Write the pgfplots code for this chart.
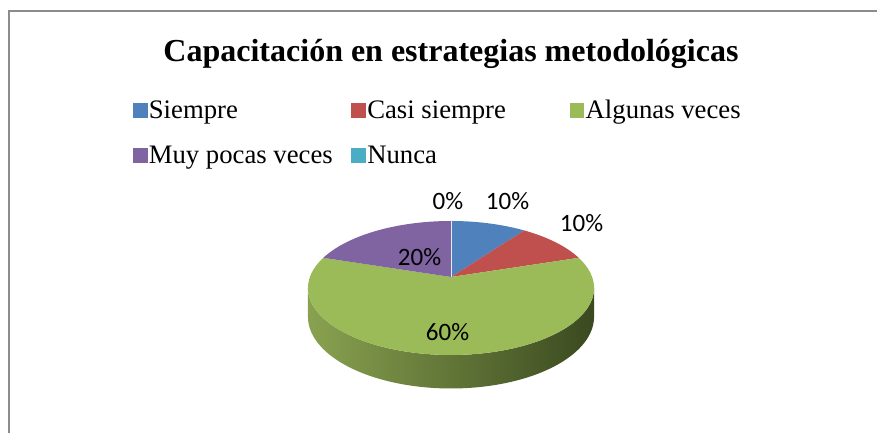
\documentclass[border=0pt]{standalone}
\usepackage{pgfplots}
\pgfplotsset{compat=1.18}
\usepackage{pgfplotstable}
\usepackage{fontspec}
\setmainfont{Liberation Serif}
\newfontfamily\calibri{Carlito}
\definecolor{cSiempre}{HTML}{4F81BD}
\definecolor{cCasi}{HTML}{C0504D}
\definecolor{cAlg}{HTML}{9BBB59}
\definecolor{cMuy}{HTML}{8064A2}
\definecolor{cNunca}{HTML}{4BACC6}
\definecolor{frameg}{HTML}{8C8C8C}
\definecolor{sideL}{RGB}{137,162,80}
\definecolor{sideM}{RGB}{98,124,52}
\definecolor{sideR}{RGB}{58,73,31}

% percentages, in drawing order (clockwise from 12 o'clock)
\pgfplotstableread{
idx value
0 10
1 10
2 60
3 20
4 0
}\piedata

\begin{document}
\begin{tikzpicture}[declare function={
  pw(\q,\p)=1+0.164*\q*sin(\p);
  px(\q,\p)=451+141.1*\q*cos(\p)/pw(\q,\p);
  py(\q,\p)=277-65.2*\q*sin(\p)/pw(\q,\p);
  tt(\q)=(\q<=1)*(-170.56+161.12*\q)+(\q>1)*(-9.44-161.12*(\q-1));
  dd(\q)=(\q>1)*28;
}]
\xdef\pieCum{0}
\foreach \i/\n in {0/a,1/b,2/c,3/d,4/e}{%
  \pgfplotstablegetelem{\i}{value}\of\piedata
  \pgfmathsetmacro\pieAs{90-3.6*\pieCum}%
  \pgfmathsetmacro\pieNc{\pieCum+\pgfplotsretval}%
  \pgfmathsetmacro\pieAe{90-3.6*\pieNc}%
  \expandafter\xdef\csname pieS\n\endcsname{\pieAs}%
  \expandafter\xdef\csname pieE\n\endcsname{\pieAe}%
  \xdef\pieCum{\pieNc}%
}
\useasboundingbox (0,0) rectangle (877pt,432pt);
\begin{axis}[
  scale only axis, width=877pt, height=432pt,
  xmin=0, xmax=877, ymin=0, ymax=432, y dir=reverse,
  hide axis, clip=false,
  legend columns=3,
  legend style={draw=none, fill=none, inner sep=0pt, outer sep=0pt,
    at={(axis cs:133,100)}, anchor=north west,
    font=\fontsize{26.7}{31}\selectfont,
    row sep=21pt,
    cells={anchor=base west},
    nodes={inner xsep=2pt, inner ysep=0pt, text height=18pt, text depth=6pt},
    /tikz/every even column/.append style={column sep=0pt}},
]
\addlegendimage{legend image code/.code={\fill[cSiempre] (0pt,1pt) rectangle (13.5pt,15pt);}}
\addlegendentry{\makebox[200.5pt][l]{Siempre}}
\addlegendimage{legend image code/.code={\fill[cCasi] (0pt,1pt) rectangle (13.5pt,15pt);}}
\addlegendentry{\makebox[200.5pt][l]{Casi siempre}}
\addlegendimage{legend image code/.code={\fill[cAlg] (0pt,1pt) rectangle (13.5pt,15pt);}}
\addlegendentry{Algunas veces}
\addlegendimage{legend image code/.code={\fill[cMuy] (0pt,1pt) rectangle (13.5pt,15pt);}}
\addlegendentry{\makebox[200.5pt][l]{Muy pocas veces}}
\addlegendimage{legend image code/.code={\fill[cNunca] (0pt,1pt) rectangle (13.5pt,15pt);}}
\addlegendentry{Nunca}

% side of the 3D pie (front part, green slice)
\addplot[draw=none, forget plot, left color=sideL, middle color=sideM, right color=sideR,
  domain=0:2, samples=241, variable=\s]
  ({px(1,tt(\s))},{py(1,tt(\s))+dd(\s)/pw(1,tt(\s))}) -- cycle;

% top surface slices
\addplot[fill=cSiempre, draw=none, forget plot, domain=\pieEa:\pieSa, samples=40, variable=\t]
  ({px(1,\t)},{py(1,\t)}) -- (axis cs:451,277) -- cycle;
\addplot[fill=cCasi, draw=none, forget plot, domain=\pieEb:\pieSb, samples=40, variable=\t]
  ({px(1,\t)},{py(1,\t)}) -- (axis cs:451,277) -- cycle;
\addplot[fill=cAlg, draw=none, forget plot, domain=\pieEc:\pieSc, samples=160, variable=\t]
  ({px(1,\t)},{py(1,\t)}) -- (axis cs:451,277) -- cycle;
\addplot[fill=cMuy, draw=none, forget plot, domain=\pieEd:\pieSd, samples=50, variable=\t]
  ({px(1,\t)},{py(1,\t)}) -- (axis cs:451,277) -- cycle;
% zero slice (Nunca) shows only as a thin line
\addplot[draw={rgb,255:red,222;green,238;blue,244}, line width=1pt, forget plot, domain=0:1, samples=2, variable=\r]
  ({px(\r,\pieSe)},{py(\r,\pieSe)});

% data labels
\begin{scope}[every node/.style={font=\calibri\fontsize{25}{29}\selectfont, anchor=base, inner sep=0pt}]
\node at (axis cs:448,209) {0\%};
\node at (axis cs:507.5,209) {10\%};
\node at (axis cs:581.5,231) {10\%};
\node at (axis cs:419.5,265) {20\%};
\node at (axis cs:447.5,340) {60\%};
\end{scope}

% title
\node[anchor=base, inner sep=0pt, font=\bfseries\fontsize{32}{38}\selectfont] at (axis cs:451,61)
  {Capacitación en estrategias metodológicas};

% chart area border (left and top edges visible)
\draw[frameg, line width=2pt] (axis cs:9,445) -- (axis cs:9,11) -- (axis cs:890,11);
\end{axis}
\end{tikzpicture}
\end{document}
